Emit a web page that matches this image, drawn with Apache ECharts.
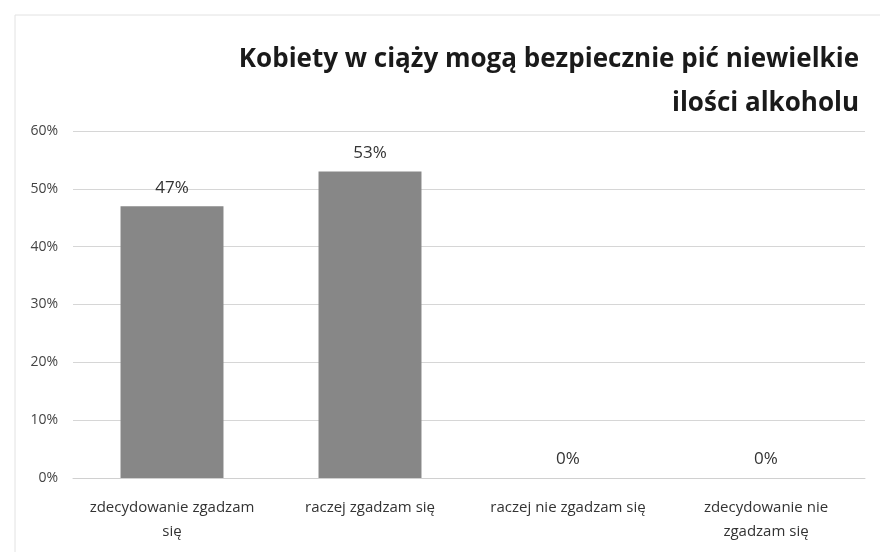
<!DOCTYPE html>
<html lang="pl">
<head>
<meta charset="UTF-8">
<title>Kobiety w ciąży mogą bezpiecznie pić niewielkie ilości alkoholu</title>
<script src="https://cdn.jsdelivr.net/npm/echarts@6/dist/echarts.min.js"></script>
<style>
  body { margin: 0; padding: 0; background: #fff; }
  #chart { width: 880px; height: 552px; }
</style>
</head>
<body>
<div id="chart"></div>
<script>
  // dane z wykresu
  const categories = [
    'zdecydowanie zgadzam\nsię',
    'raczej zgadzam się',
    'raczej nie zgadzam się',
    'zdecydowanie nie\nzgadzam się'
  ];
  const values = [47, 53, 0, 0];
  const titleLines = ['Kobiety w ciąży mogą bezpiecznie pić niewielkie', 'ilości alkoholu'];

  const chart = echarts.init(document.getElementById('chart'));

  // każda linia tytułu osobno, żeby obie były wyrównane do prawej
  const titles = titleLines.map((t, i) => ({
    text: t,
    right: 16,
    top: 42 + i * 44,
    textStyle: {
      fontFamily: 'Open Sans',
      fontWeight: 'bold',
      fontSize: 26,
      color: '#1a1a1a'
    }
  }));

  const option = {
    backgroundColor: '#fff',
    animation: false,
    title: titles,
    graphic: [{
      type: 'rect',
      shape: { x: 15, y: 15, width: 870, height: 560 },
      style: { fill: 'none', stroke: '#e2e2e2', lineWidth: 1 },
      silent: true
    }],
    grid: { left: 73, right: 15, top: 131, bottom: 74 },
    xAxis: {
      type: 'category',
      data: categories,
      axisLine: { show: true, lineStyle: { color: '#d0d0d0' } },
      axisTick: { show: false },
      axisLabel: {
        interval: 0,
        margin: 18,
        fontFamily: 'Open Sans',
        fontSize: 15,
        lineHeight: 24,
        color: '#333'
      }
    },
    yAxis: {
      type: 'value',
      min: 0,
      max: 60,
      interval: 10,
      axisLine: { show: false },
      axisTick: { show: false },
      splitLine: { lineStyle: { color: '#d6d6d6' } },
      axisLabel: {
        margin: 15,
        fontFamily: 'Open Sans',
        fontSize: 14,
        color: '#444',
        formatter: '{value}%'
      }
    },
    series: [{
      type: 'bar',
      data: values,
      barWidth: '52%',
      itemStyle: { color: '#878787' },
      label: {
        show: true,
        position: 'top',
        distance: 10,
        fontFamily: 'Open Sans',
        fontSize: 17,
        color: '#333',
        formatter: '{c}%'
      }
    }]
  };

  chart.setOption(option);
</script>
</body>
</html>
